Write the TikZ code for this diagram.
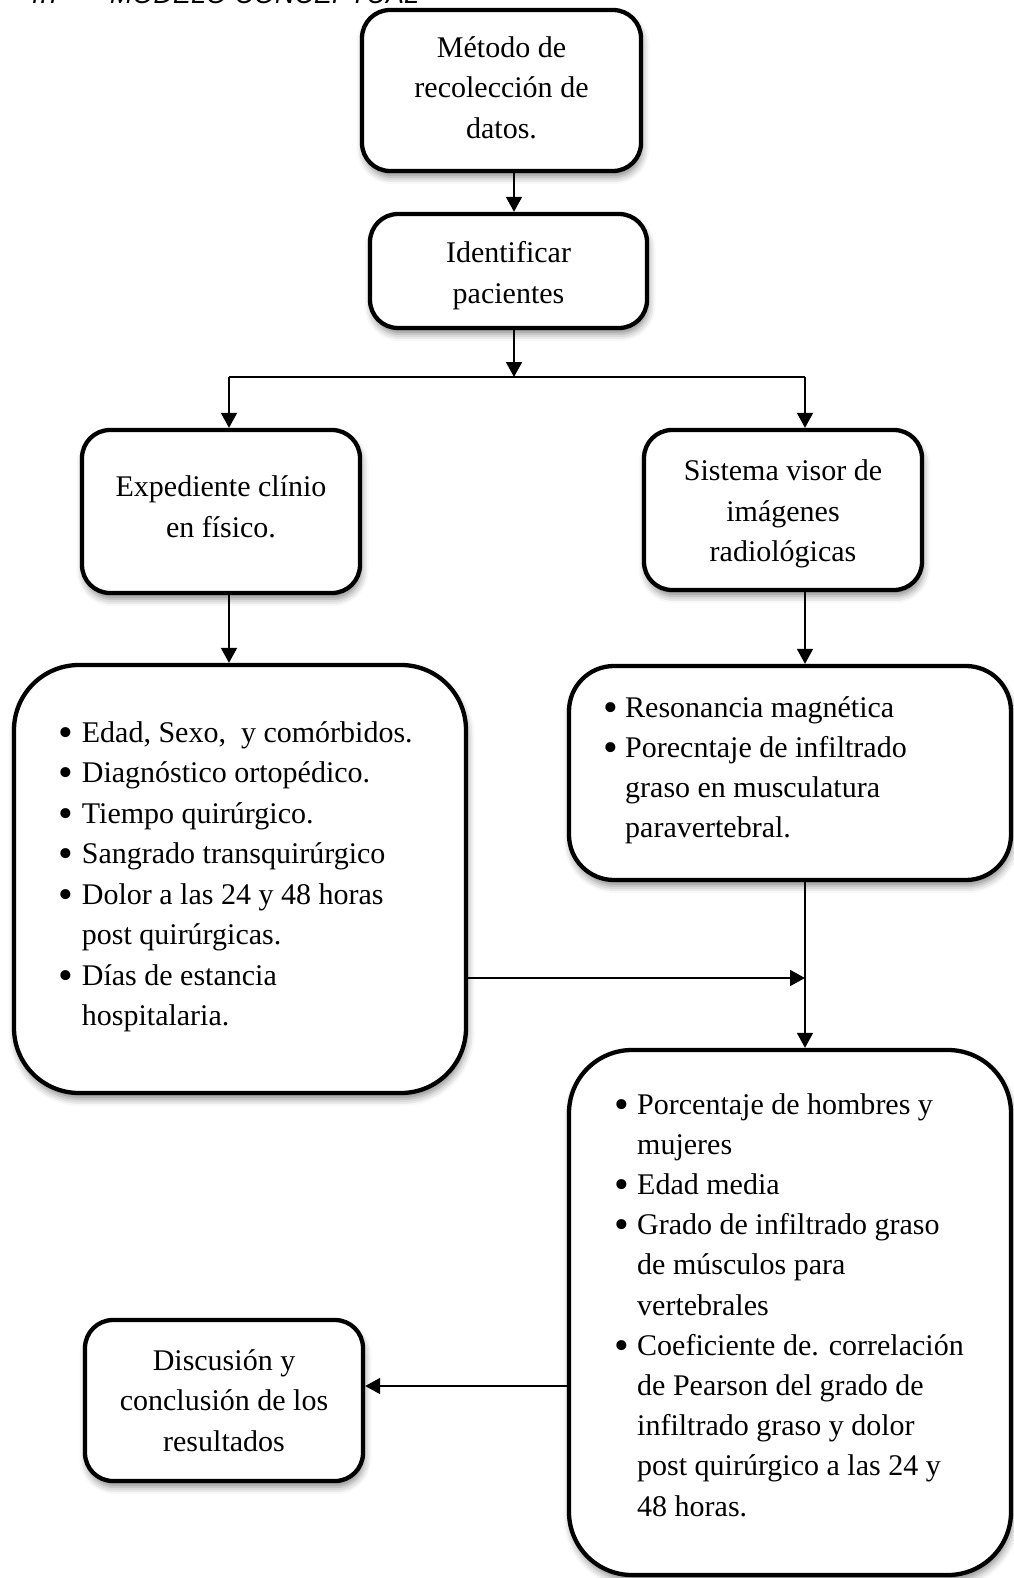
\documentclass[tikz,border=0pt]{standalone}
\usepackage{fontspec}
\setmainfont{Liberation Serif}
\newfontfamily\hdrfont{Liberation Sans}
\usetikzlibrary{arrows.meta,shadows.blur}

\newcommand\bul[1]{\makebox[#1][l]{\raisebox{-4pt}{\fontsize{42}{42}\selectfont •}}}

\tikzset{
  box/.style={draw=black, line width=4.3pt, fill=white, rounded corners=#1,
    blur shadow={shadow xshift=1.5pt, shadow yshift=-6pt, shadow blur radius=7pt, shadow opacity=45},
    inner sep=0pt},
  box/.default=28pt,
  ctext/.style={align=center, font=\fontsize{30}{40.5}\selectfont},
  ltext/.style={anchor=base west, inner sep=0pt},
  arr/.style={line width=1.7pt, -{Triangle[length=15pt,width=16pt]}},
  ln/.style={line width=1.7pt},
  hdr/.style={anchor=base west, inner sep=0pt, font=\hdrfont\itshape\fontsize{27}{30}\selectfont},
}

\begin{document}
\begin{tikzpicture}[x=1pt,y=-1pt]
\useasboundingbox (0,0) rectangle (1013,1578);

\begin{scope}
\clip (0,0) rectangle (1013,1578);
\node[hdr] (h1) at (25,4) {4.7};
\node[hdr] (h2) at (110,4) {MODELO CONCEPTUAL};
\end{scope}

% boxes
\node[box, ctext, minimum width=279pt, minimum height=161pt] (b1) at (501.5,90.5)
  {Método de\\recolección de\\datos.\rule[-6pt]{0pt}{6pt}};
\node[box, ctext, minimum width=277pt, minimum height=114pt] (b2) at (508.5,271)
  {\rule{0pt}{30pt}Identificar\\pacientes};
\node[box, ctext, minimum width=278pt, minimum height=163pt] (b3) at (221,511.5)
  {Expediente clínio\\en físico.\rule[-10pt]{0pt}{10pt}};
\node[box, ctext, minimum width=278pt, minimum height=160pt] (b4) at (783,510)
  {\rule{0pt}{28.5pt}Sistema visor de\\imágenes\\radiológicas};
\node[box=65pt, minimum width=452pt, minimum height=428pt] (b5) at (240,879) {};
\node[box=45pt, minimum width=442pt, minimum height=214pt] (b6) at (790,773) {};
\node[box=63pt, minimum width=442pt, minimum height=525pt] (b7) at (790,1312.5) {};
\node[box, ctext, minimum width=278pt, minimum height=161pt] (b8) at (224,1400.5)
  {Discusión y\\conclusión de los\\resultados};

% bullet texts
\node[ltext] (t5) at (58,742) {\parbox[t]{420pt}{\fontsize{30}{40.5}\selectfont
  \bul{23.7pt}Edad, Sexo,\ \ y comórbidos.\\
  \bul{23.7pt}Diagnóstico ortopédico.\\
  \bul{23.7pt}Tiempo quirúrgico.\\
  \bul{23.7pt}Sangrado transquirúrgico\\
  \bul{23.7pt}Dolor a las 24 y 48 horas\\
  \hspace*{23.7pt}post quirúrgicas.\\
  \bul{23.7pt}Días de estancia\\
  \hspace*{23.7pt}hospitalaria.}};
\node[ltext] (t6) at (603,717) {\parbox[t]{400pt}{\fontsize{30}{40}\selectfont
  \bul{22pt}Resonancia magnética\\
  \bul{22pt}Porecntaje de infiltrado\\
  \hspace*{22pt}graso en musculatura\\
  \hspace*{22pt}paravertebral.}};
\node[ltext] (t7) at (614,1114) {\parbox[t]{400pt}{\fontsize{30}{40.2}\selectfont
  \bul{23pt}Porcentaje de hombres y\\
  \hspace*{23pt}mujeres\\
  \bul{23pt}Edad media\\
  \bul{23pt}Grado de infiltrado graso\\
  \hspace*{23pt}de músculos para\\
  \hspace*{23pt}vertebrales\\
  \bul{23pt}Coeficiente de. correlación\\
  \hspace*{23pt}de Pearson del grado de\\
  \hspace*{23pt}infiltrado graso y dolor\\
  \hspace*{23pt}post quirúrgico a las 24 y\\
  \hspace*{23pt}48 horas.}};

% connectors
\coordinate (j) at (514,377);
\coordinate (jl) at (229,377);
\coordinate (jr) at (805,377);
\coordinate (m) at (805,978);
\coordinate (n) at (567,1386);

\draw[arr] (b1.south -| j) -- (b2.north -| j);
\draw[arr] (b2.south -| j) -- (j);
\draw[ln] (jl) -- (jr);
\draw[arr] (jl) -- (b3.north -| jl);
\draw[arr] (jr) -- (b4.north -| jr);
\draw[arr] (b3.south -| jl) -- (b5.north -| jl);
\draw[arr] (b4.south -| jr) -- (b6.north -| jr);
\draw[arr] (b5.east |- m) -- (m);
\draw[arr] (b6.south -| m) -- (b7.north -| m);
\draw[arr] (b7.west |- n) -- (b8.east |- n);
\end{tikzpicture}
\end{document}
